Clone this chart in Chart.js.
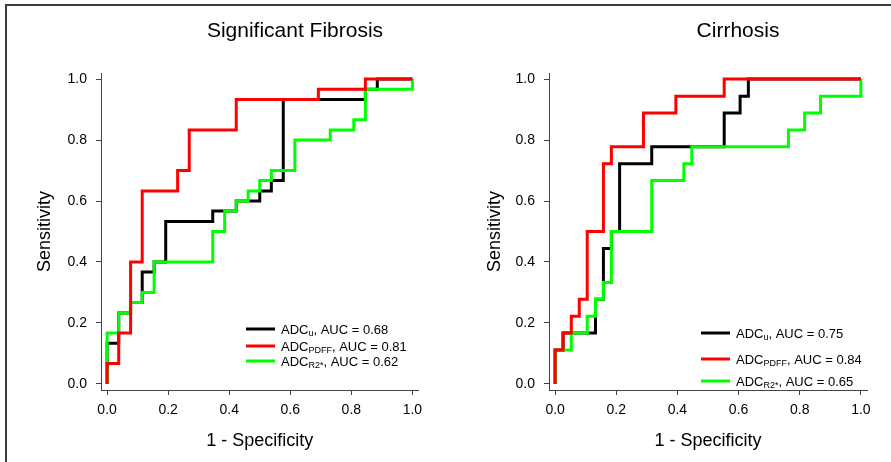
<!DOCTYPE html>
<html>
<head>
<meta charset="utf-8">
<title>ROC curves</title>
<script src="https://cdn.jsdelivr.net/npm/chart.js@4.4.1/dist/chart.umd.min.js"></script>
<style>
  html, body { margin: 0; padding: 0; background: #fff; }
  #fig { position: relative; width: 891px; height: 462px; overflow: hidden; }
  #frame { position: absolute; left: 5px; top: 4px; width: 900px; height: 470px;
           border-top: 2px solid #3c3c3c; border-left: 2px solid #3c3c3c; }
  .panel { position: absolute; top: 0; height: 462px; }
  #p1 { left: 0; width: 445px; }
  #p2 { left: 445px; width: 446px; }
</style>
</head>
<body>
<div id="fig">
  <div id="frame"></div>
  <div class="panel" id="p1"><canvas id="fibChart" width="445" height="462"></canvas></div>
  <div class="panel" id="p2"><canvas id="cirChart" width="446" height="462"></canvas></div>
</div>

<script>
/* ── data ── */
const tickValues = [0, 0.2, 0.4, 0.6, 0.8, 1.0];
const tickLabels = ['0.0', '0.2', '0.4', '0.6', '0.8', '1.0'];

const seriesSubs   = ['u', 'PDFF', 'R2*'];
const seriesColors = ['#000000', '#ff0000', '#00ff00'];

// Significant fibrosis
const fibAUC = ['0.68', '0.81', '0.62'];
const fibFprU = [0, 0, .038, .038, .077, .077, .115, .115, .154, .154, .192, .192, .346, .346, .423, .423, .5, .5, .538, .538, .577, .577, .846, .846, .885, .885, 1];
const fibTprU = [0, .133, .133, .233, .233, .267, .267, .367, .367, .4, .4, .533, .533, .567, .567, .6, .6, .633, .633, .667, .667, .933, .933, .967, .967, 1, 1];
const fibFprPdff = [0, 0, .038, .038, .077, .077, .115, .115, .231, .231, .269, .269, .423, .423, .692, .692, .846, .846, 1];
const fibTprPdff = [0, .067, .067, .167, .167, .4, .4, .633, .633, .7, .7, .833, .833, .933, .933, .967, .967, 1, 1];
const fibFprR2 = [0, 0, .038, .038, .077, .077, .115, .115, .154, .154, .346, .346, .385, .385, .423, .423, .462, .462, .5, .5, .538, .538, .615, .615, .731, .731, .808, .808, .846, .846, 1, 1];
const fibTprR2 = [0, .167, .167, .233, .233, .267, .267, .3, .3, .4, .4, .5, .5, .567, .567, .6, .6, .633, .633, .667, .667, .7, .7, .8, .8, .833, .833, .867, .867, .967, .967, 1];

// Cirrhosis
const cirAUC = ['0.75', '0.84', '0.65'];
const cirFprU = [0, 0, .026, .026, .132, .132, .158, .158, .184, .184, .211, .211, .316, .316, .553, .553, .605, .605, .632, .632, 1];
const cirTprU = [0, .111, .111, .167, .167, .278, .278, .444, .444, .5, .5, .722, .722, .778, .778, .889, .889, .944, .944, 1, 1];
const cirFprPdff = [0, 0, .026, .026, .053, .053, .079, .079, .105, .105, .158, .158, .184, .184, .289, .289, .395, .395, .553, .553, 1];
const cirTprPdff = [0, .111, .111, .167, .167, .222, .222, .278, .278, .5, .5, .722, .722, .778, .778, .889, .889, .944, .944, 1, 1];
const cirFprR2 = [0, 0, .053, .053, .105, .105, .132, .132, .158, .158, .184, .184, .316, .316, .421, .421, .447, .447, .763, .763, .816, .816, .868, .868, 1, 1];
const cirTprR2 = [0, .111, .111, .167, .167, .222, .222, .278, .278, .333, .333, .5, .5, .667, .667, .722, .722, .778, .778, .833, .833, .889, .889, .944, .944, 1];

/* ── helpers ── */
const FONT = '"Liberation Sans", Arial, sans-serif';
Chart.defaults.font.family = FONT;
Chart.defaults.color = '#000';

const toPoints = (xs, ys) => xs.map((x, i) => ({ x: x, y: ys[i] }));

// panel title drawn at a fixed spot (the original sits right of the plot centre)
const panelTitle = {
  id: 'panelTitle',
  afterDraw(chart, args, opts) {
    const ctx = chart.ctx;
    ctx.save();
    ctx.font = opts.size + 'px ' + FONT;
    ctx.fillStyle = '#000';
    ctx.textAlign = 'center';
    ctx.textBaseline = 'middle';
    ctx.fillText(opts.text, opts.x, opts.y);
    ctx.restore();
  }
};

// legend with subscripts (ADC_u etc.)
const rocLegend = {
  id: 'rocLegend',
  afterDatasetsDraw(chart, args, opts) {
    const { ctx, chartArea } = chart;
    chart.data.datasets.forEach((ds, i) => {
      const y = chartArea.top + opts.rows[i];
      const x0 = chartArea.left + opts.x;
      ctx.save();
      ctx.strokeStyle = ds.borderColor;
      ctx.lineWidth = 3;
      ctx.beginPath(); ctx.moveTo(x0, y); ctx.lineTo(x0 + 29, y); ctx.stroke();
      ctx.fillStyle = '#000';
      ctx.textAlign = 'left';
      ctx.textBaseline = 'alphabetic';
      const base = y + 5;
      let tx = x0 + 35;
      ctx.font = '13px ' + FONT;
      ctx.fillText('ADC', tx, base);
      tx += ctx.measureText('ADC').width;
      ctx.font = '9px ' + FONT;
      ctx.fillText(seriesSubs[i], tx, base + 2);
      tx += ctx.measureText(seriesSubs[i]).width;
      ctx.font = '13px ' + FONT;
      ctx.fillText(', AUC = ' + opts.auc[i], tx, base);
      ctx.restore();
    });
  }
};

function axis(pos, title, size, tickPad, titlePad) {
  return {
    type: 'linear', position: pos, min: -0.02, max: 1.02,
    afterBuildTicks: s => { s.ticks = tickValues.map(v => ({ value: v })); },
    afterFit: s => { if (pos === 'left') s.width = size; else s.height = size; },
    ticks: { callback: (v, i) => tickLabels[i], font: { size: 14 }, color: '#000',
             padding: tickPad, autoSkip: false, maxRotation: 0 },
    grid: { drawOnChartArea: false, drawTicks: true, tickLength: 5, color: '#444', lineWidth: 1 },
    border: { display: true, color: '#444', width: 1 },
    title: { display: true, text: title, font: { size: 18 }, color: '#000', padding: titlePad }
  };
}

function rocChart(id, sets, auc, cfg) {
  const order = [3, 1, 2]; // red on top, then green, black underneath
  return new Chart(document.getElementById(id), {
    type: 'line',
    data: {
      datasets: sets.map((pts, i) => ({
        label: 'ADC' + seriesSubs[i],
        data: pts,
        borderColor: seriesColors[i],
        borderWidth: 3,
        pointRadius: 0,
        tension: 0,
        fill: false,
        order: order[i]
      }))
    },
    options: {
      responsive: false,
      animation: false,
      events: [],
      layout: { padding: { top: 73, right: cfg.padRight, bottom: 0, left: 0 } },
      scales: {
        x: axis('bottom', '1 - Specificity', 72, 7, { bottom: 10 }),
        y: axis('left', 'Sensitivity', cfg.yWidth, 9, { top: cfg.yTitlePad })
      },
      plugins: {
        legend: { display: false },
        tooltip: { enabled: false },
        panelTitle: { text: cfg.title, x: cfg.titleX, y: 31, size: 21 },
        rocLegend: { x: cfg.legX, rows: cfg.legRows, auc: auc }
      }
    },
    plugins: [panelTitle, rocLegend]
  });
}

rocChart('fibChart',
  [toPoints(fibFprU, fibTprU), toPoints(fibFprPdff, fibTprPdff), toPoints(fibFprR2, fibTprR2)],
  fibAUC,
  { title: 'Significant Fibrosis', titleX: 295, padRight: 26.5, yWidth: 101, yTitlePad: 34,
    legX: 145, legRows: [256, 273, 288] });

rocChart('cirChart',
  [toPoints(cirFprU, cirTprU), toPoints(cirFprPdff, cirTprPdff), toPoints(cirFprR2, cirTprR2)],
  cirAUC,
  { title: 'Cirrhosis', titleX: 293, padRight: 24, yWidth: 104, yTitlePad: 39,
    legX: 152, legRows: [260, 286, 308] });
</script>
</body>
</html>
